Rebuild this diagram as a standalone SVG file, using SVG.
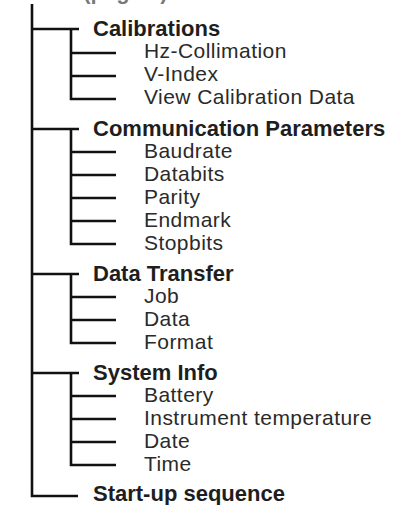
<svg xmlns="http://www.w3.org/2000/svg" width="394" height="505" viewBox="0 0 394 505">
<style>
.h{font-family:"Liberation Sans",Arial,sans-serif;font-size:22px;font-weight:bold;fill:#1e1e1e}
.s{font-family:"Liberation Sans",Arial,sans-serif;font-size:21px;letter-spacing:0.45px;fill:#2a2a2a}
.l{stroke:#111;stroke-width:2.6;fill:none}
</style>
<rect width="394" height="505" fill="#fff"/>
<g id="connectors" class="l">
<path d="M32 4V496H78"/>
<path d="M32 29H79M71 29V99H116M71 53H116M71 76H116"/>
<path d="M32 129H79M71 129V244H116M71 152H116M71 175H116M71 198H116M71 221H116"/>
<path d="M32 274H79M71 274V343H116M71 297H116M71 320H116"/>
<path d="M32 373H79M71 373V465H116M71 396H116M71 419H116M71 442H116"/>
</g>
<g id="title"><text class="h" x="20" y="-1" fill-opacity="0.6">Tools (page 9)</text></g>
<g id="calibrations">
<text class="h" x="93" y="35.5">Calibrations</text>
<text class="s" x="144" y="58">Hz-Collimation</text>
<text class="s" x="144" y="81">V-Index</text>
<text class="s" x="144" y="104">View Calibration Data</text>
</g>
<g id="communication">
<text class="h" x="93" y="135.5">Communication Parameters</text>
<text class="s" x="144" y="157.5">Baudrate</text>
<text class="s" x="144" y="180.5">Databits</text>
<text class="s" x="144" y="203.5">Parity</text>
<text class="s" x="144" y="226.5">Endmark</text>
<text class="s" x="144" y="249.5">Stopbits</text>
</g>
<g id="datatransfer">
<text class="h" x="93" y="280.5">Data Transfer</text>
<text class="s" x="144" y="302.5">Job</text>
<text class="s" x="144" y="325.5">Data</text>
<text class="s" x="144" y="348.5">Format</text>
</g>
<g id="systeminfo">
<text class="h" x="93" y="379.5">System Info</text>
<text class="s" x="144" y="401.5">Battery</text>
<text class="s" x="144" y="424.5">Instrument temperature</text>
<text class="s" x="144" y="447.5">Date</text>
<text class="s" x="144" y="470.5">Time</text>
</g>
<g id="startup">
<text class="h" x="93" y="501">Start-up sequence</text>
</g>
</svg>
